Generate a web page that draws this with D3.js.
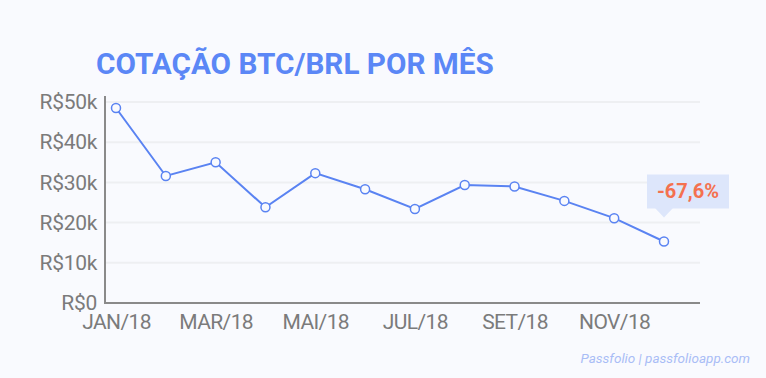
<!DOCTYPE html>
<html>
<head>
<meta charset="utf-8">
<script src="https://cdn.jsdelivr.net/npm/d3@7"></script>
<style>
  html, body { margin: 0; padding: 0; background: #f9fafe; }
  svg { display: block; font-family: Roboto, "Noto Sans", sans-serif; }
</style>
</head>
<body>
<svg id="chart"></svg>
<script>
const W = 766, H = 378;
const margin = { top: 102, right: 66, bottom: 75, left: 105 };

const months = ["JAN/18","FEV/18","MAR/18","ABR/18","MAI/18","JUN/18","JUL/18","AGO/18","SET/18","OUT/18","NOV/18","DEZ/18"];
const prices = [48500, 31600, 35000, 23800, 32300, 28300, 23400, 29350, 29000, 25400, 21100, 15300];
const yTicks = [0, 10000, 20000, 30000, 40000, 50000];
const xTickLabels = ["JAN/18","MAR/18","MAI/18","JUL/18","SET/18","NOV/18"];
const changeLabel = "-67,6%";

const svg = d3.select("#chart").attr("width", W).attr("height", H);

svg.append("text")
    .attr("x", 96).attr("y", 74)
    .attr("font-size", 29.7).attr("font-weight", 700)
    .attr("fill", "#5b87f6")
    .text("COTAÇÃO BTC/BRL POR MÊS");

const g = svg.append("g").attr("transform", `translate(${margin.left},${margin.top})`);

const x = d3.scalePoint().domain(months).range([11, 559]);
const y = d3.scaleLinear().domain([0, 50000]).range([201, 0]);

// gridlines
g.selectAll(".grid").data(yTicks.slice(1)).enter().append("line")
    .attr("x1", 0).attr("x2", 595)
    .attr("y1", d => y(d)).attr("y2", d => y(d))
    .attr("stroke", "#eeeff2").attr("stroke-width", 2);

// axes lines
g.append("line").attr("x1", 0).attr("x2", 595).attr("y1", y(0)).attr("y2", y(0))
    .attr("stroke", "#8a8a8a").attr("stroke-width", 2);
g.append("line").attr("x1", 0).attr("x2", 0).attr("y1", y(0) + 1).attr("y2", y(50000) - 6)
    .attr("stroke", "#8a8a8a").attr("stroke-width", 2);

const yAxis = g.append("g")
    .call(d3.axisLeft(y).tickValues(yTicks).tickSize(0).tickPadding(8)
        .tickFormat(d => d === 0 ? "R$0" : `R$${d / 1000}k`));
yAxis.select(".domain").remove();
yAxis.selectAll("text").attr("font-size", 21).attr("fill", "#7b7b7b")
    .attr("font-family", "Roboto, sans-serif").attr("letter-spacing", -0.3);

const xAxis = g.append("g").attr("transform", `translate(0,${y(0)})`)
    .call(d3.axisBottom(x).tickValues(xTickLabels).tickSize(0).tickPadding(11));
xAxis.select(".domain").remove();
xAxis.selectAll("text").attr("font-size", 21).attr("fill", "#7b7b7b")
    .attr("font-family", "Roboto, sans-serif").attr("letter-spacing", -0.6);

// line
const line = d3.line().x((d, i) => x(months[i])).y(d => y(d));
g.append("path").datum(prices)
    .attr("d", line).attr("fill", "none")
    .attr("stroke", "#5a83f2").attr("stroke-width", 2);

g.selectAll(".dot").data(prices).enter().append("circle")
    .attr("cx", (d, i) => x(months[i])).attr("cy", d => y(d))
    .attr("r", 4.5).attr("fill", "#f9fafe")
    .attr("stroke", "#5a83f2").attr("stroke-width", 1.5);

// callout
const lx = x(months[months.length - 1]);
const ly = y(prices[prices.length - 1]);
const callout = g.append("g");
callout.append("rect")
    .attr("x", lx - 17).attr("y", ly - 67)
    .attr("width", 82).attr("height", 34)
    .attr("fill", "#dde6fb");
callout.append("path")
    .attr("d", `M${lx - 9},${ly - 33.5} L${lx + 9},${ly - 33.5} L${lx},${ly - 24} Z`)
    .attr("fill", "#dde6fb");
callout.append("text")
    .attr("x", lx + 24).attr("y", ly - 43)
    .attr("text-anchor", "middle")
    .attr("font-size", 20).attr("font-weight", 700)
    .attr("fill", "#f4714f")
    .text(changeLabel);

svg.append("text")
    .attr("x", 750).attr("y", 363)
    .attr("text-anchor", "end")
    .attr("font-size", 13.5).attr("font-style", "italic")
    .attr("fill", "#a9bdf6")
    .text("Passfolio | passfolioapp.com");
</script>
</body>
</html>
